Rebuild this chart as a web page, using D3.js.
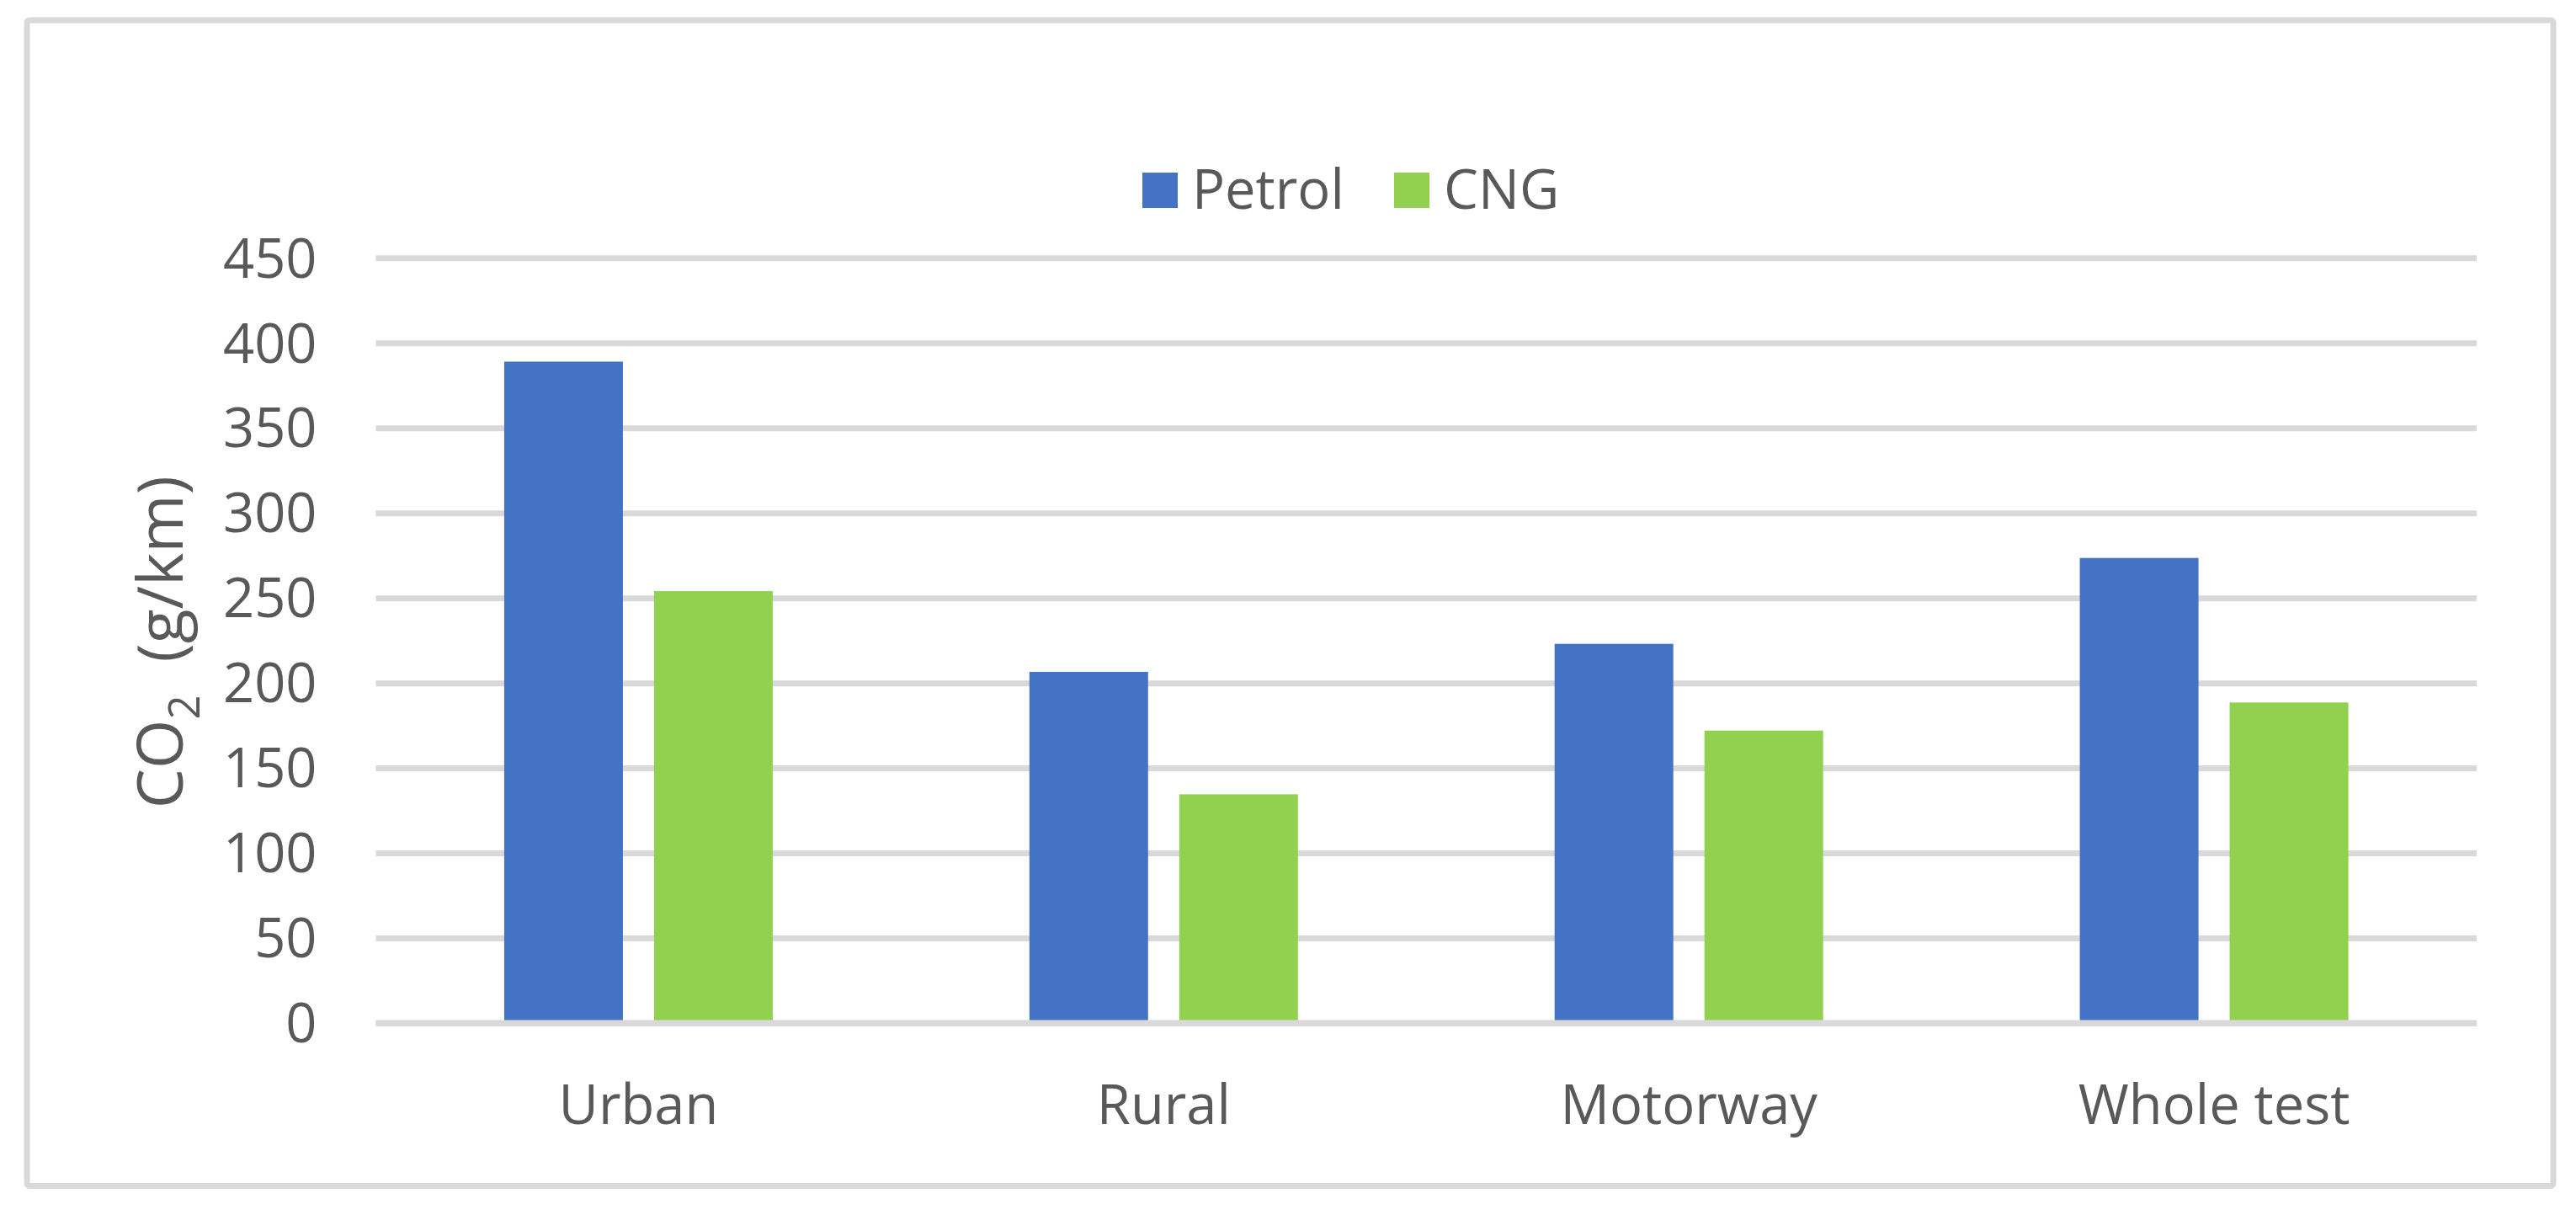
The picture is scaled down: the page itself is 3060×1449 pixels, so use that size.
<!DOCTYPE html>
<html>
<head>
<meta charset="utf-8">
<script src="https://cdn.jsdelivr.net/npm/d3@7"></script>
<style>
  html, body { margin: 0; padding: 0; background: #ffffff; }
  svg { display: block; }
  text { font-family: "Open Sans", "Noto Sans", sans-serif; fill: #595959; }
</style>
</head>
<body>
<svg id="chart" width="3060" height="1449"></svg>
<script>
// ---- data ----
const categories = ["Urban", "Rural", "Motorway", "Whole test"];
const seriesNames = ["Petrol", "CNG"];
const petrolValues = [389, 206.5, 223, 273.5];
const cngValues = [254, 134.5, 172, 188.5];
const yTicks = [0, 50, 100, 150, 200, 250, 300, 350, 400, 450];
const seriesColors = ["#4472C4", "#92D050"];

const seriesValues = [petrolValues, cngValues];
const rows = categories.map((c, i) => ({
  category: c,
  values: seriesNames.map((s, j) => ({ series: s, value: seriesValues[j][i], color: seriesColors[j] }))
}));

// ---- layout ----
const W = 3060, H = 1449;
const plot = { left: 446.5, right: 2942, top: 306.3, bottom: 1215 };
const gridColor = "#D9D9D9";
const lineW = 7;
const fontSize = 65;

const svg = d3.select("#chart");

// outer frame
svg.append("rect")
  .attr("x", 32).attr("y", 24)
  .attr("width", 3033 - 32).attr("height", 1408.5 - 24)
  .attr("rx", 3).attr("ry", 3)
  .attr("fill", "#ffffff")
  .attr("stroke", gridColor)
  .attr("stroke-width", lineW);

// scales
const x0 = d3.scaleBand().domain(categories).range([plot.left, plot.right]).padding(0);
const groupInner = 319 / 623.9;
const x1 = d3.scaleBand().domain(seriesNames)
  .range([x0.bandwidth() * (1 - groupInner) / 2, x0.bandwidth() * (1 + groupInner) / 2])
  .paddingInner(0.2079).paddingOuter(0);
const y = d3.scaleLinear().domain([0, 450]).range([plot.bottom, plot.top]);

// gridlines + y tick labels
const yAxis = d3.axisLeft(y)
  .tickValues(yTicks)
  .tickSize(-(plot.right - plot.left))
  .tickPadding(70)
  .tickFormat(d3.format("d"));

const gy = svg.append("g")
  .attr("transform", `translate(${plot.left},0)`)
  .call(yAxis);
gy.select(".domain").remove();
gy.selectAll(".tick line")
  .attr("stroke", gridColor)
  .attr("stroke-width", lineW);
gy.selectAll(".tick text")
  .attr("font-size", fontSize)
  .attr("fill", "#595959")
  .attr("dy", "0.35em")
  .style("font-family", '"Open Sans", "Noto Sans", sans-serif');

// bars
const groups = svg.append("g").selectAll("g")
  .data(rows)
  .join("g")
  .attr("transform", d => `translate(${x0(d.category)},0)`);

groups.selectAll("rect")
  .data(d => d.values)
  .join("rect")
  .attr("x", d => x1(d.series))
  .attr("width", x1.bandwidth())
  .attr("y", d => y(d.value))
  .attr("height", d => y(0) - y(d.value))
  .attr("fill", d => d.color);

// horizontal axis line (on top of bars)
const xAxis = d3.axisBottom(x0).tickSize(0).tickPadding(0);
const gx = svg.append("g")
  .attr("transform", `translate(0,${y(0)})`)
  .call(xAxis);
gx.select(".domain")
  .attr("stroke", gridColor)
  .attr("stroke-width", lineW)
  .attr("d", `M${plot.left},0H${plot.right}`);
gx.selectAll(".tick text")
  .attr("font-size", fontSize)
  .attr("fill", "#595959")
  .attr("y", 120)
  .attr("dy", 0)
  .style("font-family", '"Open Sans", "Noto Sans", sans-serif');

// y axis title: CO2 (g/km)
const titleSize = 75;
const yTitle = svg.append("text")
  .attr("transform", `translate(217,${(plot.top + plot.bottom) / 2 + 2}) rotate(-90)`)
  .attr("text-anchor", "middle")
  .attr("font-size", titleSize)
  .attr("xml:space", "preserve")
  .style("white-space", "pre");
yTitle.append("tspan").text("CO");
yTitle.append("tspan").attr("font-size", 51).attr("dy", 20).text("2");
yTitle.append("tspan").attr("dy", -20).text("  (g/km)");

// legend
const legend = svg.append("g").attr("transform", "translate(1357,205)");
const legendOffsets = [0, 299];
const legendItems = legend.selectAll("g")
  .data(seriesNames)
  .join("g")
  .attr("transform", (d, i) => `translate(${legendOffsets[i]},0)`);
legendItems.append("rect")
  .attr("width", 42).attr("height", 42)
  .attr("fill", (d, i) => seriesColors[i]);
legendItems.append("text")
  .attr("x", 59)
  .attr("y", 42.5)
  .attr("font-size", fontSize)
  .text(d => d);
</script>
</body>
</html>
